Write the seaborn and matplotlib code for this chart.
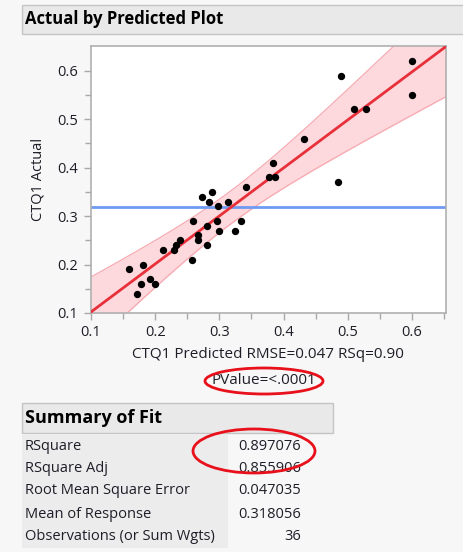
import numpy as np
import pandas as pd
import matplotlib
matplotlib.use("Agg")
import matplotlib.pyplot as plt
import seaborn as sns
from matplotlib.patches import Rectangle, Ellipse

# ---- data ----
predicted = [0.159, 0.181, 0.178, 0.172, 0.192, 0.199, 0.212, 0.229, 0.232, 0.239,
             0.258, 0.259, 0.266, 0.267, 0.280, 0.280, 0.273, 0.289, 0.284, 0.296,
             0.299, 0.298, 0.314, 0.324, 0.334, 0.342, 0.377, 0.386, 0.384, 0.489,
             0.600, 0.600, 0.509, 0.528, 0.432, 0.484]
actual = [0.19, 0.20, 0.16, 0.14, 0.17, 0.16, 0.23, 0.23, 0.24, 0.25,
          0.21, 0.29, 0.26, 0.25, 0.28, 0.24, 0.34, 0.35, 0.33, 0.29,
          0.27, 0.32, 0.33, 0.27, 0.29, 0.36, 0.38, 0.38, 0.41, 0.59,
          0.62, 0.55, 0.52, 0.52, 0.46, 0.37]
x_ticks = [0.1, 0.2, 0.3, 0.4, 0.5, 0.6]
y_ticks = [0.1, 0.2, 0.3, 0.4, 0.5, 0.6]
fit_labels = ["RSquare", "RSquare Adj", "Root Mean Square Error", "Mean of Response",
              "Observations (or Sum Wgts)"]
fit_values = ["0.897076", "0.855906", "0.047035", "0.318056", "36"]
rmse = 0.047035
model_df = 10
f_crit = 2.236  # F(0.95; 10, 25)

df = pd.DataFrame({"CTQ1 Predicted": predicted, "CTQ1 Actual": actual})

sns.set_theme(style="white")
plt.rcParams["font.family"] = ["Open Sans", "DejaVu Sans"]

W, H = 464, 552
fig = plt.figure(figsize=(W / 100, H / 100), dpi=100)
fig.patch.set_facecolor("#f7f7f7")

def fx(x):
    return x / W

def fy(y):
    return 1 - y / H

TXT = "#1e1e28"

# axes
L, T, R, B = 91, 46, 446, 313
ax = fig.add_axes([fx(L), fy(B), (R - L) / W, (B - T) / H])
ax.set_facecolor("white")
xlim = (0.1, 0.653)
ylim = (0.1, 0.651)

# fit and confidence band
xs = np.linspace(xlim[0], xlim[1], 200)
xarr = np.array(predicted)
slope, intercept = np.polyfit(xarr, np.array(actual), 1)
yfit = slope * xs + intercept
n = len(xarr)
xbar = xarr.mean()
sxx = ((xarr - xbar) ** 2).sum()
half = 0.92 * np.sqrt(model_df * f_crit) * rmse * np.sqrt(1 / n + (xs - xbar) ** 2 / sxx)
ax.fill_between(xs, yfit - half, yfit + half, color="#fdd9dd", zorder=1, lw=0)
ax.plot(xs, yfit - half, color="#f6a9b0", lw=0.9, zorder=2)
ax.plot(xs, yfit + half, color="#f6a9b0", lw=0.9, zorder=2)
ax.plot(xs, yfit, color="#e8303a", lw=2.0, zorder=3)

ax.axhline(np.mean(actual), color="#6f9af2", lw=2.0, zorder=2)

sns.scatterplot(data=df, x="CTQ1 Predicted", y="CTQ1 Actual", ax=ax,
                color="black", s=28, edgecolor="black", linewidth=0, zorder=4)

ax.set_xlim(*xlim)
ax.set_ylim(*ylim)
ax.set_xticks(x_ticks)
ax.set_yticks(y_ticks)
ax.set_xticklabels([f"{v:.1f}" for v in x_ticks])
ax.set_yticklabels([f"{v:.1f}" for v in y_ticks])
ax.set_xticks(np.array(x_ticks) + 0.05, minor=True)
ax.set_yticks(np.array(y_ticks[:-1]) + 0.05, minor=True)
ax.tick_params(axis="both", which="both", direction="out", color="#a8a8a8",
               length=5, width=1, labelsize=10.5, labelcolor=TXT, pad=4,
               bottom=True, left=True)
ax.tick_params(axis="both", which="minor", length=4)
for s in ax.spines.values():
    s.set_color("#b0b0b0")
    s.set_linewidth(1.2)
ax.set_xlabel("")
ax.set_ylabel("CTQ1 Actual", fontsize=10.5, color=TXT, labelpad=9)

fig.text(fx(268), fy(355), "CTQ1 Predicted RMSE=0.047 RSq=0.90", ha="center",
         va="center", fontsize=11, color=TXT)
fig.text(fx(264), fy(380), "PValue=<.0001", ha="center", va="center",
         fontsize=11, color=TXT)

# title bar
fig.patches.append(Rectangle((fx(22), fy(34)), (464 - 22) / W, 29 / H,
                             transform=fig.transFigure, facecolor="#e9e9e9",
                             edgecolor="#c4c4c4", lw=1, zorder=0))
fig.text(fx(25), fy(19), "Actual by Predicted Plot", ha="left", va="center",
         fontsize=12, fontweight="bold", color="black")

# summary header
fig.patches.append(Rectangle((fx(22), fy(433)), (333 - 22) / W, 30 / H,
                             transform=fig.transFigure, facecolor="#e9e9e9",
                             edgecolor="#c4c4c4", lw=1, zorder=0))
fig.text(fx(25), fy(418), "Summary of Fit", ha="left", va="center",
         fontsize=13, fontweight="bold", color="black")

# table
fig.patches.append(Rectangle((fx(22), fy(548)), (228 - 22) / W, (548 - 435) / H,
                             transform=fig.transFigure, facecolor="#ececec",
                             edgecolor="none", zorder=0))
row_y = [446, 469, 491, 514, 536]
for lab, val, yy in zip(fit_labels, fit_values, row_y):
    fig.text(fx(25), fy(yy), lab, ha="left", va="center", fontsize=10.5,
             color=TXT)
    fig.text(fx(301), fy(yy), val, ha="right", va="center", fontsize=10.5,
             color=TXT)

# red annotation ellipses
fig.patches.append(Ellipse((fx(264), fy(381)), 118 / W, 26 / H,
                           transform=fig.transFigure, facecolor="none",
                           edgecolor="#e8101a", lw=2, zorder=5))
fig.patches.append(Ellipse((fx(254), fy(451)), 122 / W, 44 / H,
                           transform=fig.transFigure, facecolor="none",
                           edgecolor="#e8101a", lw=2, zorder=5))

fig.savefig("out.png", dpi=100, facecolor=fig.get_facecolor())
